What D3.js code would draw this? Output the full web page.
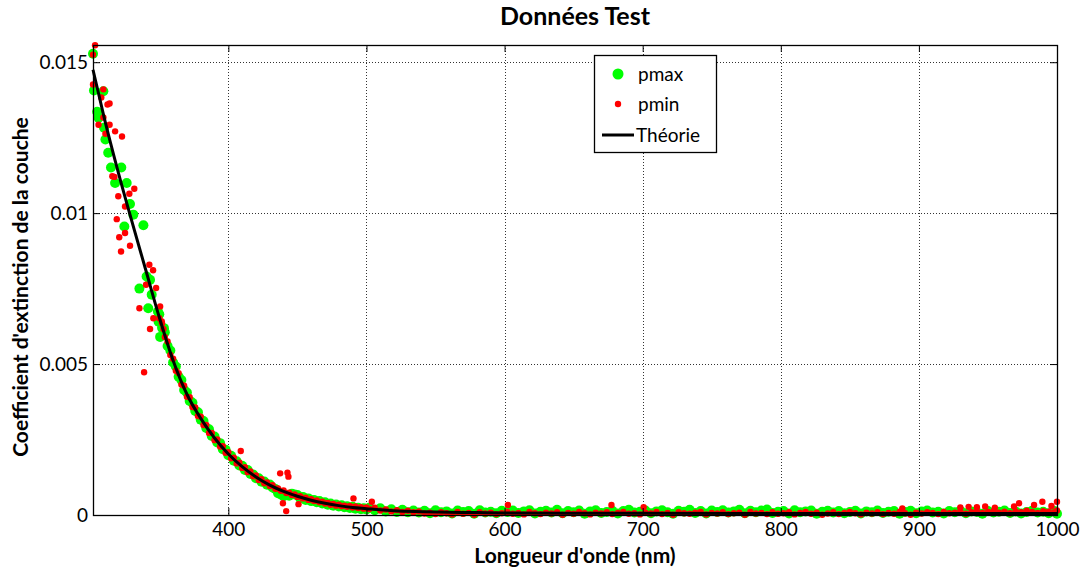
<!DOCTYPE html>
<html><head><meta charset="utf-8">
<script src="https://cdn.jsdelivr.net/npm/d3@7"></script>
<style>
body{margin:0;background:#fff}
svg{display:block}
text{font-family:Lato,"Open Sans",sans-serif;fill:#000}
</style>
</head><body>
<svg id="chart" width="1082" height="569"></svg>
<script>
// ---- DATA (values in units of 1e-5) ----
const valueUnit = 1e-5;
const xDomain = [302, 1000];
const yMax = 1557;
const xTicks = [400, 500, 600, 700, 800, 900, 1000];
const yTicks = [0, 500, 1000, 1500];
const yTickLabels = ["0", "0.005", "0.01", "0.015"];
const titleText = "Données Test";
const xLabel = "Longueur d'onde (nm)";
const yLabel = "Coefficient d'extinction de la couche";
const seriesNames = ["pmax", "pmin", "Théorie"];

const theoryWl  = [302,310,320,330,340,350,360,370,380,390,400,410,420,430,440,450,460,470,480,490,500,510,520,540,560,580,600,650,700,800,900,1000];
const theoryVal = [1475,1318,1140,975,815,655,512,400,320,255,202,160,126,99,78,62,49,39,31,25,21,17,14,11,9,8,7,6,6,5,5,5];

const pmaxHeadWl  = [302,302.7,309.5,305,306,310,311,313,315,322.5,318,326.4,328.8,331.2,324.7,338.5,340.8,343.3,335.6,344.5,342,349,349.5,353.4,350.6];
const pmaxHeadVal = [1528,1406,1404,1336,1316,1283,1244,1200,1151,1151,1100,1100,1030,995,956,960,790,779,750,730,685,674,640,619,590];

const pminHeadWl  = [303.5,302,302,309.5,308,312.5,314,309.5,306,314,318,311,323,316,317.5,320.3,331.9,328.3,325.2,319.2,325.2,321,328.8,322.3,342.8,345.5,340.4,347.7,335.6,350.6,345.7,351.8,343.3,353,339];
const pminHeadVal = [1556,1525,1426,1410,1383,1360,1363,1317,1293,1293,1271,1263,1254,1122,1120,1056,1081,1064,1022,980,934,920,892,873,829,811,763,752,685,691,652,641,616,616,473];

const bandWl = [350,352,354,356,358,360,362,364,366,368,370,372,374,376,378,380,382,384,386,388,390,392,394,396,398,400,402,404,406,408,410,412,414,416,418,420,422,424,426,428,430,432,434,436,438,440,442,444,446,448,450,452,454,456,458,460,462,464,466,468,470,472,474,476,478,480,482,484,486,488,490,492,494,496,498,500];
const pmaxBandVal = [665,620,605,560,545,505,492,458,447,414,406,378,372,345,340,316,311,288,284,262,260,240,238,218,216,198,196,180,178,164,163,149,149,136,134,122,122,110,111,100,101,91,86,72,68,62,66,64,70,68,66,56,60,50,55,46,50,42,46,38,42,34,38,31,35,28,32,26,29,23,27,21,24,19,22,18];
const pminBandVal = [652,635,590,575,530,518,478,470,432,428,392,390,358,356,328,326,298,298,272,272,248,250,227,228,206,208,188,190,171,173,156,158,142,144,128,131,116,119,105,108,96,99,87,88,80,81,73,74,66,68,60,62,55,57,50,52,46,48,42,44,38,40,34,37,31,34,29,31,27,30,25,28,23,26,21,25];

const tailWl = [502,506,510,514,518,522,526,530,534,538,
  542,546,550,554,558,562,566,570,574,578,582,586,590,594,598,
  602,606,610,614,618,622,626,630,634,638,642,646,650,654,658,662,666,670,674,678,682,686,690,694,698,
  702,706,710,714,718,722,726,730,734,738,742,746,750,754,758,762,766,770,774,778,782,786,790,794,798,
  802,806,810,814,818,822,826,830,834,838,842,846,850,854,858,862,866,870,874,878,882,886,890,894,898,
  902,906,910,914,918,922,926,930,934,938,942,946,950,954,958,962,966,970,974,978,982,986,990,994,998,
  1000];
const pmaxTailVal = [24,16,22,12,19,10,17,9,15,8,
  14,6,16,9,12,5,15,10,13,4,16,8,11,6,14,
  10,15,7,12,16,5,11,14,8,17,6,13,9,15,4,12,16,7,10,14,5,13,17,8,11,
  15,6,12,16,9,4,14,11,17,7,13,5,15,10,16,8,12,17,6,14,9,15,18,7,11,
  13,5,16,9,12,15,4,11,14,8,13,6,10,14,5,12,9,15,7,11,13,4,10,14,6,
  12,15,8,11,5,13,9,14,6,12,10,4,13,8,11,15,7,12,5,10,14,8,11,6,13,
  4];
const pminTailVal = [20,24,15,18,12,16,10,14,9,12,
  5,8,3,9,6,2,10,4,7,1,9,5,8,3,6,
  9,4,7,2,10,6,3,8,5,9,1,7,4,10,6,2,8,5,9,3,7,10,4,6,2,
  8,5,10,3,7,1,9,6,4,8,10,2,7,5,9,3,6,8,1,10,5,7,3,9,4,
  6,9,2,7,10,4,8,1,5,9,3,7,10,6,2,8,5,9,3,7,4,10,6,1,8,
  5,9,7,3,10,6,8,11,4,9,12,7,10,13,8,11,6,12,9,14,10,7,13,11,9,
  15];

const pminOutlierWl  = [409,437.5,442.8,443.5,439.5,441.9,450.8,490.6,503.9,602.4,677.4,700.7,888,930,936,942,948,955,968.9,972.5,983.4,989.4,996,1000];
const pminOutlierVal = [212,138,140,127,39,13,36,55,44,33,33,26,22,25,27,26,28,24,28,39,33,44,30,44];

// ---- BUILD ----
const zip = (w, v) => w.map((d, i) => ({wl: d, v: v[i] * valueUnit}));
const pmax = [].concat(zip(pmaxHeadWl, pmaxHeadVal), zip(bandWl, pmaxBandVal), zip(tailWl, pmaxTailVal));
const pmin = [].concat(zip(pminHeadWl, pminHeadVal), zip(bandWl, pminBandVal), zip(tailWl, pminTailVal), zip(pminOutlierWl, pminOutlierVal));
const theory = zip(theoryWl, theoryVal);

const svg = d3.select("#chart");
const L = 93, R = 1057, T = 45, B = 515;
const x = d3.scaleLinear().domain(xDomain).range([L, R]);
const y = d3.scaleLinear().domain([0, yMax * valueUnit]).range([B, T]);

// grid
const grid = svg.append("g").attr("stroke", "#333").attr("stroke-width", 1).attr("stroke-dasharray", "1,2");
grid.selectAll("line.vx").data(xTicks).join("line")
  .attr("x1", d => Math.round(x(d)) + 0.5).attr("x2", d => Math.round(x(d)) + 0.5)
  .attr("y1", T).attr("y2", B);
grid.selectAll("line.hy").data(yTicks.filter(d => d > 0)).join("line")
  .attr("y1", d => Math.round(y(d * valueUnit)) + 0.5).attr("y2", d => Math.round(y(d * valueUnit)) + 0.5)
  .attr("x1", L).attr("x2", R);

// points
svg.append("g").selectAll("circle").data(pmax).join("circle")
  .attr("cx", d => x(d.wl)).attr("cy", d => y(d.v)).attr("r", 5).attr("fill", "#00ff00");
svg.append("g").selectAll("circle").data(pmin).join("circle")
  .attr("cx", d => x(d.wl)).attr("cy", d => y(d.v)).attr("r", 3.2).attr("fill", "#ff0000");

// theory
svg.append("path").datum(theory)
  .attr("fill", "none").attr("stroke", "#000").attr("stroke-width", 3)
  .attr("d", d3.line().x(d => x(d.wl)).y(d => y(d.v)).curve(d3.curveMonotoneX));

// axes
const fs = "19px";
svg.append("g").attr("transform", `translate(0,${B})`)
  .call(d3.axisBottom(x).tickValues(xTicks).tickSizeInner(-7).tickSizeOuter(0).tickPadding(8).tickFormat(d3.format("d")));
svg.append("g").attr("transform", `translate(${L},0)`)
  .call(d3.axisLeft(y).tickValues(yTicks.map(d => d * valueUnit)).tickSizeInner(-7).tickSizeOuter(0).tickPadding(5)
    .tickFormat((d, i) => yTickLabels[i]));
svg.append("g").attr("transform", `translate(0,${T})`)
  .call(d3.axisTop(x).tickValues(xTicks).tickSizeInner(-7).tickSizeOuter(0).tickFormat(""));
svg.append("g").attr("transform", `translate(${R},0)`)
  .call(d3.axisRight(y).tickValues(yTicks.map(d => d * valueUnit)).tickSizeInner(-7).tickSizeOuter(0).tickFormat(""));
svg.selectAll(".domain").remove();
svg.selectAll(".tick line").attr("stroke", "#000");
svg.selectAll(".tick text").style("font-size", fs).style("font-family", "Lato");

svg.append("rect").attr("x", L + 0.5).attr("y", T + 0.5).attr("width", R - L).attr("height", B - T)
  .attr("fill", "none").attr("stroke", "#000").attr("stroke-width", 1.3);

// titles
svg.append("text").attr("x", (L + R) / 2).attr("y", 25).attr("text-anchor", "middle")
  .style("font-size", "25px").style("font-weight", "bold").text(titleText);
svg.append("text").attr("x", (L + R) / 2).attr("y", 563).attr("text-anchor", "middle")
  .style("font-size", "21px").style("font-weight", "bold").text(xLabel);
svg.append("text").attr("transform", "translate(28,287) rotate(-90)").attr("text-anchor", "middle")
  .style("font-size", "21px").style("font-weight", "bold").text(yLabel);

// legend
const lg = svg.append("g");
lg.append("rect").attr("x", 594.5).attr("y", 55.5).attr("width", 122).attr("height", 97)
  .attr("fill", "#fff").attr("stroke", "#000").attr("stroke-width", 1.3);
lg.append("circle").attr("cx", 618).attr("cy", 74).attr("r", 5.5).attr("fill", "#00ff00");
lg.append("circle").attr("cx", 618).attr("cy", 104).attr("r", 3.2).attr("fill", "#ff0000");
lg.append("line").attr("x1", 602).attr("x2", 634).attr("y1", 135).attr("y2", 135).attr("stroke", "#000").attr("stroke-width", 3);
[[seriesNames[0], 638, 81], [seriesNames[1], 638, 111], [seriesNames[2], 636, 142]].forEach(([t, tx, ty]) => {
  lg.append("text").attr("x", tx).attr("y", ty).style("font-size", "19px").text(t);
});
</script>
</body></html>
